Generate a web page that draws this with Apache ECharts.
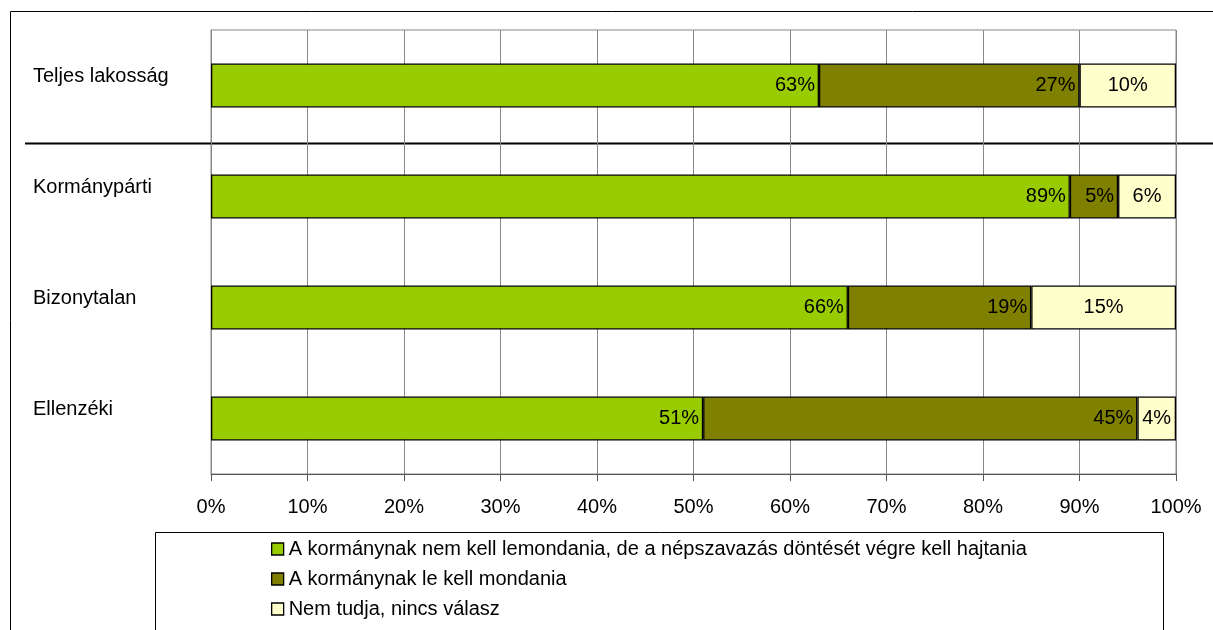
<!DOCTYPE html>
<html><head><meta charset="utf-8">
<script src="https://cdn.jsdelivr.net/npm/echarts@6/dist/echarts.min.js"></script>
<style>html,body{margin:0;padding:0;background:#fff}#c{width:1213px;height:630px}</style>
</head><body><div id="c"></div>
<script>
const categories = ['Teljes lakosság', 'Kormánypárti', 'Bizonytalan', 'Ellenzéki'];
const nemKellLemondania = [63, 89, 66, 51];
const leKellMondania = [27, 5, 19, 45];
const nemTudja = [10, 6, 15, 4];
const names = [
  'A kormánynak nem kell lemondania, de a népszavazás döntését végre kell hajtania',
  'A kormánynak le kell mondania',
  'Nem tudja, nincs válasz'
];
const xTicks = [0, 10, 20, 30, 40, 50, 60, 70, 80, 90, 100];
const colors = ['#99CC00', '#808000', '#FFFFCC'];
const FONT = 'Liberation Sans, Arial, sans-serif';
const FS = 20;

const chart = echarts.init(document.getElementById('c'), null, {renderer: 'canvas'});
function mk(i, data, pos) {
  return {
    name: names[i], type: 'bar', stack: 'a', data: data, barWidth: 44,
    itemStyle: {color: colors[i], borderColor: '#000', borderWidth: 1.3},
    label: {show: true, position: pos, formatter: '{c}%', color: '#000', fontFamily: FONT, fontSize: FS, distance: 4},
    emphasis: {disabled: true}
  };
}
chart.setOption({
  animation: false,
  textStyle: {fontFamily: FONT},
  grid: {left: 211, right: 37, top: 30, bottom: 156, show: true, borderColor: '#888', borderWidth: 1},
  xAxis: {
    type: 'value', min: xTicks[0], max: xTicks[xTicks.length - 1], interval: 10,
    axisLine: {show: true, lineStyle: {color: '#555', width: 1}},
    axisTick: {show: true, length: 7, lineStyle: {color: '#555'}},
    splitLine: {show: true, lineStyle: {color: '#888', width: 1}},
    axisLabel: {formatter: '{value}%', color: '#000', fontFamily: FONT, fontSize: FS, margin: 23}
  },
  yAxis: {
    type: 'category', data: categories, inverse: true,
    axisLine: {show: true, lineStyle: {color: '#888'}},
    axisTick: {show: false},
    axisLabel: {align: 'left', verticalAlign: 'bottom', lineHeight: 19, margin: 178, color: '#000', fontFamily: FONT, fontSize: FS}
  },
  legend: {
    orient: 'vertical', left: 266, top: 534, itemGap: 10, itemWidth: 12, itemHeight: 12,
    icon: 'rect',
    itemStyle: {borderColor: '#000', borderWidth: 1.3},
    textStyle: {fontFamily: FONT, fontSize: FS, color: '#000'},
    data: names, selectedMode: false
  },
  graphic: [
    {type: 'polyline', shape: {points: [[10.5, 630], [10.5, 11.5], [1213, 11.5]]}, style: {stroke: '#000', lineWidth: 1, fill: null}, silent: true},
    {type: 'line', shape: {x1: 25, y1: 143.5, x2: 1213, y2: 143.5}, style: {stroke: '#000', lineWidth: 2}, silent: true},
    {type: 'rect', shape: {x: 155.5, y: 532.5, width: 1008, height: 110}, style: {stroke: '#000', lineWidth: 1, fill: null}, silent: true}
  ],
  series: [
    mk(0, nemKellLemondania, 'insideRight'),
    mk(1, leKellMondania, 'insideRight'),
    mk(2, nemTudja, 'inside')
  ]
});
</script></body></html>
